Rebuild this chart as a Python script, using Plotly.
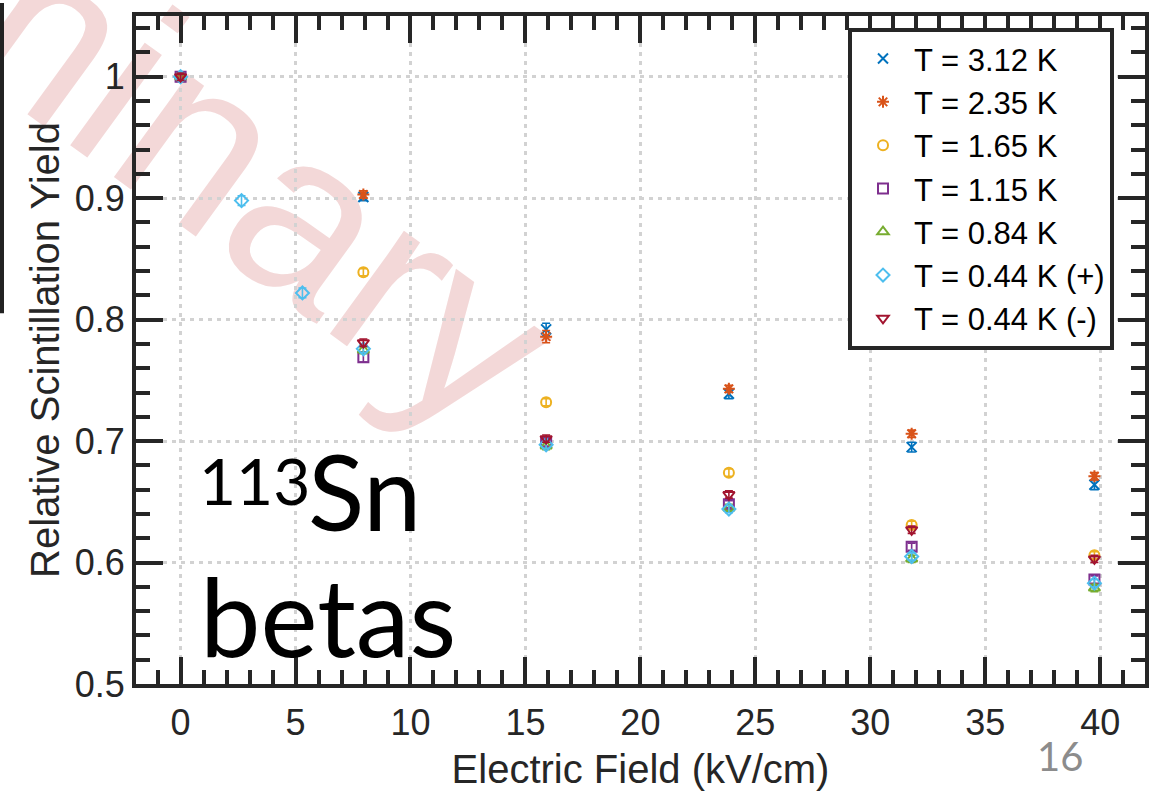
import plotly.graph_objects as go

# ---------------- data ----------------
field_all = [0, 2.65, 5.3, 7.95, 15.9, 23.85, 31.8, 39.75]
field_main = [0, 7.95, 15.9, 23.85, 31.8, 39.75]

y_312 = [1.000, 0.901, 0.792, 0.739, 0.695, 0.664]
e_312 = [0.003, 0.003, 0.005, 0.004, 0.004, 0.004]
y_235 = [1.000, 0.903, 0.786, 0.743, 0.706, 0.671]
e_235 = [0.003, 0.003, 0.005, 0.003, 0.003, 0.003]
y_165 = [1.000, 0.839, 0.732, 0.674, 0.631, 0.606]
e_165 = [0.003, 0.003, 0.003, 0.003, 0.003, 0.003]
y_115 = [1.000, 0.769, 0.699, 0.648, 0.613, 0.586]
e_115 = [0.003, 0.004, 0.003, 0.003, 0.003, 0.003]
y_084 = [1.000, 0.775, 0.696, 0.645, 0.603, 0.579]
e_084 = [0.003, 0.003, 0.003, 0.003, 0.003, 0.003]
y_044p = [1.000, 0.898, 0.822, 0.776, 0.697, 0.644, 0.605, 0.583]
e_044p = [0.003, 0.004, 0.004, 0.003, 0.003, 0.003, 0.003, 0.003]
y_044m = [1.000, 0.781, 0.702, 0.656, 0.627, 0.603]
e_044m = [0.003, 0.003, 0.003, 0.003, 0.003, 0.003]

series_names = ["T = 3.12 K", "T = 2.35 K", "T = 1.65 K", "T = 1.15 K",
                "T = 0.84 K", "T = 0.44 K (+)", "T = 0.44 K (-)"]
series_x = [field_main, field_main, field_main, field_main, field_main, field_all, field_main]
series_y = [y_312, y_235, y_165, y_115, y_084, y_044p, y_044m]
series_e = [e_312, e_235, e_165, e_115, e_084, e_044p, e_044m]
colors = ["#0072BD", "#D95319", "#EDB120", "#7E2F8E", "#77AC30", "#4DBEEE", "#A2142F"]
symbols = ["x-thin-open", "asterisk-open", "circle-open", "square-open",
           "triangle-up-open", "diamond-open", "triangle-down-open"]

x_ticks = [0, 5, 10, 15, 20, 25, 30, 35, 40]
y_ticks = [0.5, 0.6, 0.7, 0.8, 0.9, 1.0]
y_ticklabels = ["0.5", "0.6", "0.7", "0.8", "0.9", "1"]

# ---------------- geometry ----------------
W, H = 1165, 797
L, R, T, B = 136, 1145, 13, 687


def px(xp):
    return (xp - L) / (R - L)


def py(yp):
    return (B - yp) / (B - T)


fig = go.Figure()
for name, xs, ys, es, c, s in zip(series_names, series_x, series_y, series_e, colors, symbols):
    fig.add_trace(go.Scatter(
        x=xs, y=ys, mode="markers", name=name,
        marker=dict(symbol=s, size=10, color=c, line=dict(color=c, width=2)),
        error_y=dict(type="data", array=es, color=c, thickness=1.6, width=4),
    ))

axis_common = dict(
    showline=True, linecolor="#262626", linewidth=4, mirror="allticks",
    ticks="inside", ticklen=27, tickwidth=4, tickcolor="#262626",
    showgrid=True, gridcolor="#d2d2d2", gridwidth=3, griddash="4px,5px",
    zeroline=False,
    tickfont=dict(family="Liberation Sans, Arial", size=36, color="#262626"),
)

fig.update_xaxes(
    range=[-1.94, 41.95], tickvals=x_ticks, ticktext=[str(v) for v in x_ticks],
    minor=dict(ticks="inside", ticklen=14, tickwidth=4, tickcolor="#262626", dtick=1, tick0=0, showgrid=False),
    title=dict(text="Electric Field (kV/cm)", font=dict(family="Liberation Sans, Arial", size=40, color="#262626"), standoff=14),
    ticklabelstandoff=4,
    **axis_common,
)
fig.update_yaxes(
    range=[0.5, 1.05], tickvals=y_ticks, ticktext=y_ticklabels,
    minor=dict(ticks="inside", ticklen=14, tickwidth=4, tickcolor="#262626", dtick=0.02, tick0=0.5, showgrid=False),
    title=dict(text="Relative Scintillation Yield", font=dict(family="Liberation Sans, Arial", size=40, color="#262626"), standoff=4),
    ticklabelstandoff=0,
    **axis_common,
)

# watermark (behind data)
fig.add_shape(
    type="rect", xref="paper", yref="paper",
    x0=px(-145), x1=px(255), y0=py(200), y1=py(-200),
    line=dict(width=0), fillcolor="rgba(0,0,0,0)", layer="below",
    label=dict(text="Preliminary", textangle=36, textposition="middle center",
               font=dict(family="Liberation Sans, Arial", size=240, color="#f3d8d8")),
)
# slide frame edge at left
fig.add_shape(type="line", xref="paper", yref="paper",
              x0=px(2), x1=px(2), y0=py(0), y1=py(313),
              line=dict(color="#222222", width=4))

annos = [
    dict(text="113", x=px(197), y=py(482), font=dict(family="Lato", size=64, color="black")),
    dict(text="Sn", x=px(306), y=py(492), font=dict(family="Lato", size=104, color="black")),
    dict(text="betas", x=px(198), y=py(617), font=dict(family="Lato", size=108, color="black")),
]
for a in annos:
    fig.add_annotation(xref="paper", yref="paper", xanchor="left", yanchor="middle",
                       showarrow=False, **a)
fig.add_annotation(text="16", xref="paper", yref="paper", x=px(1060), y=py(760),
                   xanchor="center", yanchor="middle", showarrow=False,
                   font=dict(family="Lato", size=40, color="#8c8c8c"))

fig.update_layout(
    width=W, height=H,
    margin=dict(l=L, r=W - R, t=T, b=H - B),
    paper_bgcolor="white", plot_bgcolor="rgba(0,0,0,0)",
    font=dict(family="Liberation Sans, Arial", color="#262626"),
    showlegend=True,
    legend=dict(x=px(848), y=py(25), xanchor="left", yanchor="top",
                bgcolor="white", bordercolor="#262626", borderwidth=4,
                itemwidth=52,
                font=dict(family="Liberation Sans, Arial", size=31, color="black")),
)

fig.write_html("out.html")
